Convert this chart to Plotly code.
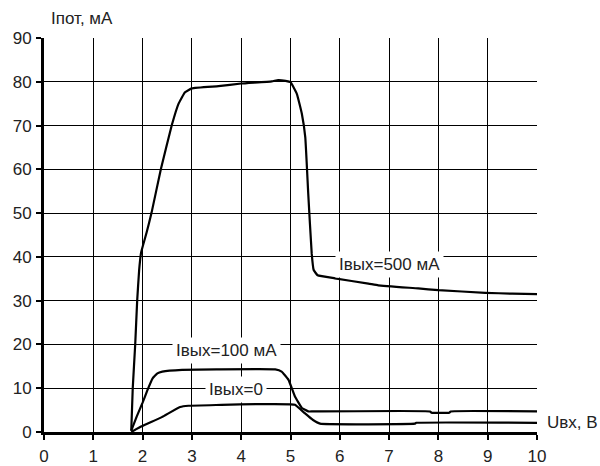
import plotly.graph_objects as go

# ---- data ----
x_500 = [1.77, 1.80, 1.85, 1.89, 1.93, 1.97, 2.08, 2.18, 2.37, 2.59, 2.73, 2.86, 3.0, 3.54, 4.0, 4.62, 4.75, 4.9, 5.0, 5.13, 5.23, 5.30, 5.36, 5.43, 5.47, 5.55, 5.9, 6.58, 6.78, 7.59, 8.0, 8.95, 9.5, 10.0]
y_500 = [0.3, 10, 20, 30, 37, 41, 45.5, 50, 60, 70, 75, 77.6, 78.5, 79.0, 79.6, 80.1, 80.4, 80.2, 79.9, 77.2, 72.7, 67.3, 54.4, 40.8, 37, 35.8, 35.1, 33.9, 33.5, 32.8, 32.4, 31.8, 31.6, 31.5]

x_100 = [1.77, 1.88, 2.0, 2.10, 2.2, 2.3, 2.4, 2.8, 3.5, 4.69, 4.82, 4.96, 5.09, 5.23, 5.36, 5.45, 7.83, 7.86, 8.22, 8.25, 10.0]
y_100 = [0.3, 3.5, 6.7, 9.6, 12.2, 13.4, 13.8, 14.2, 14.3, 14.3, 13.8, 11.9, 8.1, 5.5, 4.7, 4.7, 4.7, 4.4, 4.4, 4.7, 4.7]

x_0 = [1.77, 1.98, 2.39, 2.76, 2.93, 3.6, 4.35, 5.0, 5.09, 5.29, 5.45, 5.60, 7.52, 7.55, 10.0]
y_0 = [0.0, 1.3, 3.4, 5.7, 6.0, 6.2, 6.4, 6.3, 6.2, 4.3, 2.8, 1.9, 1.9, 2.1, 2.1]

x_ticks = [0, 1, 2, 3, 4, 5, 6, 7, 8, 9, 10]
y_ticks = [0, 10, 20, 30, 40, 50, 60, 70, 80, 90]

labels = ["Iвых=500 мА", "Iвых=100 мА", "Iвых=0"]
label_x = [7.0, 3.7, 3.9]
label_y = [38.3, 18.6, 9.8]

FONT = "Liberation Sans, Arial, sans-serif"

fig = go.Figure()
for xs, ys in [(x_500, y_500), (x_100, y_100), (x_0, y_0)]:
    fig.add_trace(go.Scatter(x=xs, y=ys, mode="lines",
                             line=dict(color="black", width=2.2, shape="spline", smoothing=0.3),
                             showlegend=False, hoverinfo="skip"))

for t, lx, ly in zip(labels, label_x, label_y):
    fig.add_annotation(x=lx, y=ly, xref="x", yref="y", text=t, showarrow=False,
                       bgcolor="white", borderpad=3,
                       font=dict(family=FONT, size=17, color="#222"))

fig.add_annotation(x=0, y=1, xref="paper", yref="paper", xanchor="left", yanchor="bottom",
                   xshift=5, yshift=8, text="Iпот, мА", showarrow=False,
                   font=dict(family=FONT, size=17, color="#222"))
fig.add_annotation(x=1, y=2.2, xref="paper", yref="y", xanchor="left", yanchor="middle",
                   xshift=8, text="Uвх, В", showarrow=False,
                   font=dict(family=FONT, size=17, color="#222"))

axis_common = dict(showgrid=True, gridcolor="black", gridwidth=1,
                   showline=True, linecolor="black", linewidth=3,
                   ticks="outside", ticklen=5, tickwidth=2, tickcolor="black",
                   zeroline=False, automargin=False,
                   tickfont=dict(family=FONT, size=17, color="#222"))

fig.update_xaxes(range=[0, 10], tickvals=x_ticks, ticklabelstandoff=2, **axis_common)
fig.update_yaxes(range=[0, 90], tickvals=y_ticks, ticklabelstandoff=1, **axis_common)

fig.update_layout(width=600, height=466, margin=dict(l=44, r=63, t=38, b=34),
                  plot_bgcolor="white", paper_bgcolor="white")

fig.write_html("out.html")
